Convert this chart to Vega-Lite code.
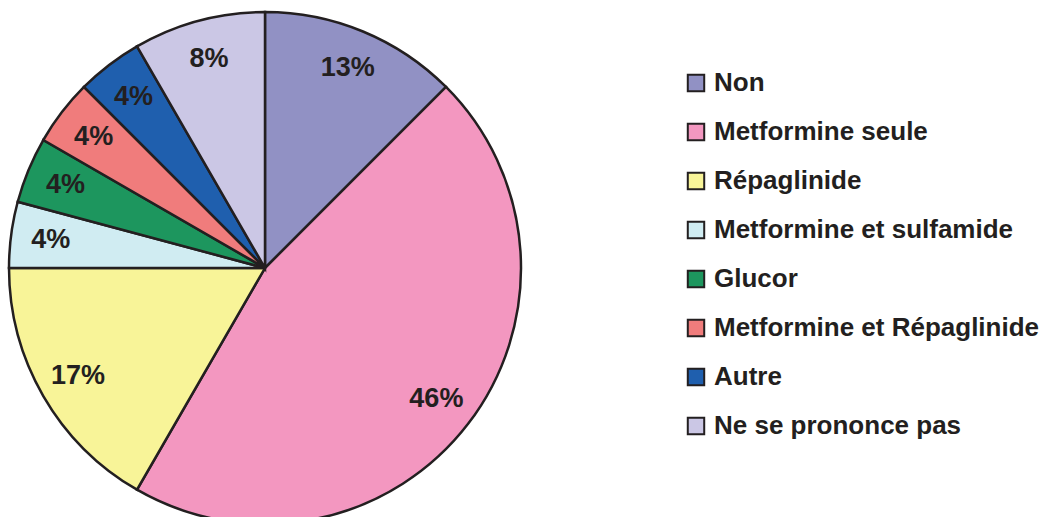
{
  "$schema": "https://vega.github.io/schema/vega-lite/v6.json",
  "width": 530,
  "height": 536,
  "autosize": {"type": "none"},
  "padding": {"left": 0, "top": 0, "right": 516, "bottom": 0},
  "background": "white",
  "view": {"stroke": null},
  "data": {
    "values": [
      {"idx": 1, "cat": "Non", "n": 3, "label": "13%"},
      {"idx": 2, "cat": "Metformine seule", "n": 11, "label": "46%"},
      {"idx": 3, "cat": "Répaglinide", "n": 4, "label": "17%"},
      {"idx": 4, "cat": "Metformine et sulfamide", "n": 1, "label": "4%"},
      {"idx": 5, "cat": "Glucor", "n": 1, "label": "4%"},
      {"idx": 6, "cat": "Metformine et Répaglinide", "n": 1, "label": "4%"},
      {"idx": 7, "cat": "Autre", "n": 1, "label": "4%"},
      {"idx": 8, "cat": "Ne se prononce pas", "n": 2, "label": "8%"}
    ]
  },
  "encoding": {
    "theta": {"field": "n", "type": "quantitative", "stack": true},
    "order": {"field": "idx", "type": "quantitative"},
    "color": {
      "field": "cat",
      "type": "nominal",
      "sort": null,
      "scale": {
        "domain": ["Non", "Metformine seule", "Répaglinide", "Metformine et sulfamide", "Glucor", "Metformine et Répaglinide", "Autre", "Ne se prononce pas"],
        "range": ["#9191c4", "#f397c0", "#f8f498", "#d0ecf2", "#1d965e", "#f07c7c", "#1f5fae", "#cbc7e5"]
      },
      "legend": {
        "title": null,
        "orient": "none",
        "legendX": 683,
        "legendY": 70,
        "symbolType": "square",
        "symbolSize": 270,
        "symbolStrokeColor": "#231f20",
        "symbolStrokeWidth": 2,
        "symbolOpacity": 1,
        "labelFont": "Liberation Sans",
        "labelFontWeight": "bold",
        "labelFontSize": 26,
        "labelColor": "#231f20",
        "labelOffset": 5,
        "labelLimit": 0,
        "rowPadding": 23
      }
    }
  },
  "layer": [
    {
      "mark": {"type": "arc", "radius": 256, "stroke": "#231f20", "strokeWidth": 2.5}
    },
    {
      "mark": {"type": "text", "radius": 216, "font": "Liberation Sans", "fontWeight": "bold", "fontSize": 27, "fill": "#231f20", "align": "center", "baseline": "middle"},
      "encoding": {
        "text": {"field": "label"},
        "color": {"value": "#231f20"}
      }
    }
  ]
}
